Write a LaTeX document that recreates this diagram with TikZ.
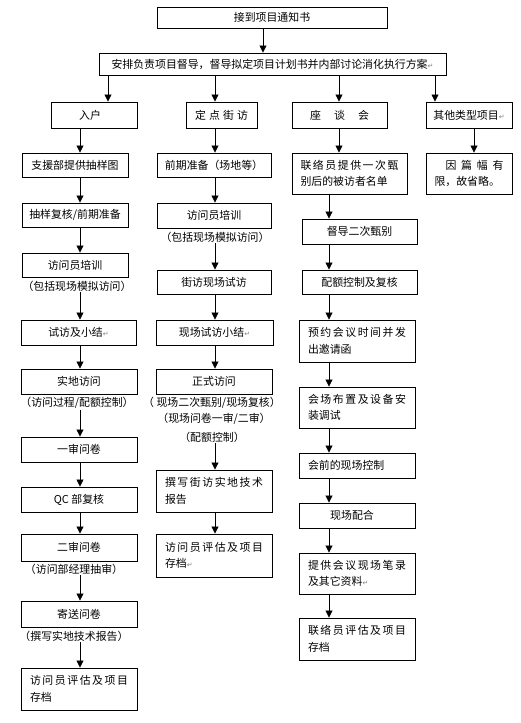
\documentclass[tikz,border=0pt]{standalone}
\usepackage{fontspec}
\setmainfont{Noto Sans CJK SC}
\newfontfamily\symfont{DejaVu Sans}
\usetikzlibrary{arrows.meta}
\newcommand{\retmark}{{\symfont\fontsize{7}{7}\selectfont\textcolor{gray}{↵}}}
\begin{document}
\begin{tikzpicture}[x=1pt,y=-1pt,
  font=\fontsize{10.9}{16.5}\selectfont,
  box/.style={draw, line width=0.9pt, inner sep=0pt, align=center},
  mbox/.style={box, text width=98pt, align=left},
  lbl/.style={inner sep=1pt},
  arr/.style={-{Triangle[length=7pt,width=7pt]}, line width=0.8pt}]
\useasboundingbox (0,0) rectangle (521,723);

% top
\node[box, minimum width=230pt, minimum height=21pt] (top) at (272,17.5) {接到项目通知书};
\node[box, minimum width=347pt, minimum height=22pt] (plan) at (272.5,64) {安排负责项目督导，督导拟定项目计划书并内部讨论消化执行方案\retmark};

% headers
\node[box, minimum width=86pt, minimum height=26pt] (h1) at (94,115) {\hspace*{-8pt}入户};
\node[box, minimum width=71pt, minimum height=26pt] (h2) at (221.5,115) {\makebox[53pt]{定\hfill 点\hfill 街\hfill 访}};
\node[box, minimum width=95pt, minimum height=26pt] (h3) at (339.5,115) {\makebox[59pt]{座\hfill 谈\hfill 会}};
\node[box, minimum width=86pt, minimum height=26pt] (h4) at (469,115) {其他类型项目\retmark};

% column 1
\node[box, minimum width=106pt, minimum height=24pt] (c1a) at (75,165) {支援部提供抽样图};
\node[box, minimum width=106pt, minimum height=24pt] (c1b) at (75,215) {抽样复核/前期准备};
\node[box, minimum width=106pt, minimum height=24pt] (c1c) at (75,265) {访问员培训};
\node[lbl] (l1c) at (77,286) {（包括现场模拟访问）};
\node[box, minimum width=115pt, minimum height=25pt] (c1d) at (78.5,332.5) {试访及小结\retmark};
\node[box, minimum width=116pt, minimum height=25pt] (c1e) at (79,381.5) {实地访问};
\node[lbl] (l1e) at (77,403) {（访问过程/配额控制）};
\node[box, minimum width=116pt, minimum height=25pt] (c1f) at (79,449.5) {一审问卷};
\node[box, minimum width=116pt, minimum height=25pt] (c1g) at (79,499.5) {QC 部复核};
\node[box, minimum width=116pt, minimum height=27pt] (c1h) at (79,547.5) {二审问卷};
\node[lbl] (l1h) at (74,569) {（访问部经理抽审）};
\node[box, minimum width=116pt, minimum height=26pt] (c1i) at (79,614) {寄送问卷};
\node[lbl] (l1i) at (74,636) {（撰写实地技术报告）};
\node[mbox, minimum width=116pt, minimum height=42pt] (c1j) at (79,689) {\makebox[98pt][s]{访\hfill 问\hfill 员\hfill 评\hfill 估\hfill 及\hfill 项\hfill 目}\\存档};

% column 2
\node[box, minimum width=114pt, minimum height=24pt] (c2a) at (214,165) {前期准备（场地等）};
\node[box, minimum width=114pt, minimum height=25pt] (c2b) at (214,215.5) {访问员培训};
\node[lbl] (l2b) at (215,237) {（包括现场模拟访问）};
\node[box, minimum width=114pt, minimum height=24pt] (c2c) at (214,282) {街访现场试访};
\node[box, minimum width=117pt, minimum height=25pt] (c2d) at (214.5,332.5) {现场试访小结\retmark};
\node[box, minimum width=116pt, minimum height=25pt] (c2e) at (214,381.5) {正式访问};
\node[lbl] (l2e1) at (212,403) {（ 现场二次甄别/现场复核）};
\node[lbl] (l2e2) at (214,419) {（现场问卷一审/二审）};
\node[lbl] (l2e3) at (212,437) {（配额控制）};
\node[mbox, minimum width=116pt, minimum height=42pt] (c2f) at (214,491) {\makebox[98pt][s]{撰\hfill 写\hfill 街\hfill 访\hfill 实\hfill 地\hfill 技\hfill 术}\\报告};
\node[mbox, minimum width=116pt, minimum height=43pt] (c2g) at (214,555.5) {\makebox[98pt][s]{访\hfill 问\hfill 员\hfill 评\hfill 估\hfill 及\hfill 项\hfill 目}\\存档\retmark};

% column 3
\node[mbox, minimum width=115pt, minimum height=41pt] (c3a) at (349.5,173.5) {\makebox[98pt][s]{联\hfill 络\hfill 员\hfill 提\hfill 供\hfill 一\hfill 次\hfill 甄}\\别后的被访者名单};
\node[box, minimum width=115pt, minimum height=25pt] (c3b) at (359.5,231.5) {督导二次甄别};
\node[box, minimum width=115pt, minimum height=24pt] (c3c) at (359.5,282) {配额控制及复核};
\node[mbox, minimum width=116pt, minimum height=42pt] (c3d) at (357,341) {\makebox[98pt][s]{预\hfill 约\hfill 会\hfill 议\hfill 时\hfill 间\hfill 并\hfill 发}\\出邀请函};
\node[mbox, minimum width=116pt, minimum height=41pt] (c3e) at (357,407.5) {\makebox[98pt][s]{会\hfill 场\hfill 布\hfill 置\hfill 及\hfill 设\hfill 备\hfill 安}\\装调试};
\node[mbox, minimum width=116pt, minimum height=25pt] (c3f) at (357,465.5) {会前的现场控制};
\node[box, minimum width=116pt, minimum height=25pt] (c3g) at (357,515.5) {\hspace*{-10pt}现场配合};
\node[mbox, minimum width=116pt, minimum height=41pt] (c3h) at (357,573.5) {\makebox[98pt][s]{提\hfill 供\hfill 会\hfill 议\hfill 现\hfill 场\hfill 笔\hfill 录}\\及其它资料\retmark};
\node[mbox, minimum width=116pt, minimum height=42pt] (c3i) at (357,639) {\makebox[98pt][s]{联\hfill 络\hfill 员\hfill 评\hfill 估\hfill 及\hfill 项\hfill 目}\\存档};

% column 4
\node[box, text width=69pt, align=left, minimum width=86pt, minimum height=41pt] (c4a) at (469,173.5) {\makebox[69pt][s]{\hspace*{11pt}因\hfill 篇\hfill 幅\hfill 有}\\限，故省略。};

% x positions
\coordinate (xt) at (263,0);
\coordinate (p1) at (108,0);
\coordinate (p2) at (215,0);
\coordinate (p3) at (339,0);
\coordinate (p4) at (435,0);
\coordinate (x1) at (80,0);
\coordinate (x2) at (215,0);
\coordinate (x3h) at (339,0);
\coordinate (x3) at (329,0);
\coordinate (x4) at (474,0);

% connectors
\draw[arr] (top.south -| xt) -- (plan.north -| xt);
\draw[arr] (plan.south -| p1) -- (h1.north -| p1);
\draw[arr] (plan.south -| p2) -- (h2.north -| p2);
\draw[arr] (plan.south -| p3) -- (h3.north -| p3);
\draw[arr] (plan.south -| p4) -- (h4.north -| p4);

\draw[arr] (h1.south -| x1) -- (c1a.north -| x1);
\draw[arr] (c1a.south -| x1) -- (c1b.north -| x1);
\draw[arr] (c1b.south -| x1) -- (c1c.north -| x1);
\draw[arr] (l1c.south -| x1) -- (c1d.north -| x1);
\draw[arr] (c1d.south -| x1) -- (c1e.north -| x1);
\draw[arr] (l1e.south -| x1) -- (c1f.north -| x1);
\draw[arr] (c1f.south -| x1) -- (c1g.north -| x1);
\draw[arr] (c1g.south -| x1) -- (c1h.north -| x1);
\draw[arr] (l1h.south -| x1) -- (c1i.north -| x1);
\draw[arr] (l1i.south -| x1) -- (c1j.north -| x1);

\draw[arr] (h2.south -| x2) -- (c2a.north -| x2);
\draw[arr] (c2a.south -| x2) -- (c2b.north -| x2);
\draw[arr] (l2b.south -| x2) -- (c2c.north -| x2);
\draw[arr] (c2c.south -| x2) -- (c2d.north -| x2);
\draw[arr] (c2d.south -| x2) -- (c2e.north -| x2);
\draw[arr] (l2e3.south -| x2) -- (c2f.north -| x2);
\draw[arr] (c2f.south -| x2) -- (c2g.north -| x2);

\draw[arr] (h3.south -| x3h) -- (c3a.north -| x3h);
\draw[arr] (c3a.south -| x3) -- (c3b.north -| x3);
\draw[arr] (c3b.south -| x3) -- (c3c.north -| x3);
\draw[arr] (c3c.south -| x3) -- (c3d.north -| x3);
\draw[arr] (c3d.south -| x3) -- (c3e.north -| x3);
\draw[arr] (c3e.south -| x3) -- (c3f.north -| x3);
\draw[arr] (c3f.south -| x3) -- (c3g.north -| x3);
\draw[arr] (c3g.south -| x3) -- (c3h.north -| x3);
\draw[arr] (c3h.south -| x3) -- (c3i.north -| x3);

\draw[arr] (h4.south -| x4) -- (c4a.north -| x4);
\end{tikzpicture}
\end{document}
